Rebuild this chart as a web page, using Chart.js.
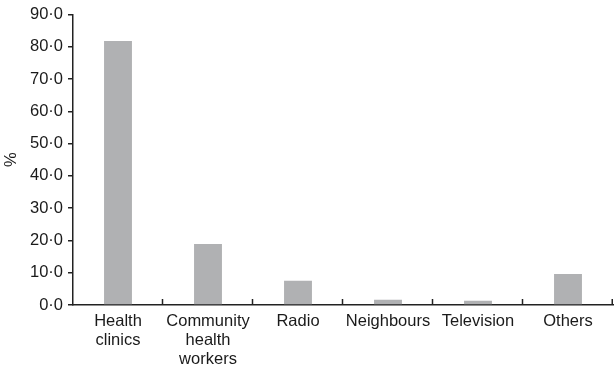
<!DOCTYPE html>
<html>
<head>
<meta charset="utf-8">
<script src="https://cdn.jsdelivr.net/npm/chart.js@4.4.1/dist/chart.umd.min.js"></script>
<style>
  body { margin: 0; background: #fff; }
  canvas { display: block; }
</style>
</head>
<body>
<canvas id="chart" width="614" height="371"></canvas>
<script>
// sources of information, % of respondents
var categories = [["Health", "clinics"], ["Community", "health", "workers"], "Radio", "Neighbours", "Television", "Others"];
var values = [81.8, 18.9, 7.5, 1.6, 1.3, 9.6];
var yTicks = [0, 10, 20, 30, 40, 50, 60, 70, 80, 90];

// little up-pointing ticks between categories, like the printed figure
var innerTicks = {
  id: "innerTicks",
  afterDraw: function(chart) {
    var x = chart.scales.x, ctx = chart.ctx;
    var n = categories.length;
    var step = (x.right - x.left) / n;
    ctx.save();
    ctx.strokeStyle = "#222";
    ctx.lineWidth = 1.5;
    for (var i = 1; i <= n; i++) {
      var px = Math.round(x.left + i * step) - 0.5;
      if (i == n) px = x.right - 0.75;
      ctx.beginPath();
      ctx.moveTo(px, x.top);
      ctx.lineTo(px, x.top - 6);
      ctx.stroke();
    }
    ctx.restore();
  }
};

var fnt = { family: "'Liberation Sans', Arial, sans-serif", size: 16.5, lineHeight: 1.15 };

new Chart(document.getElementById("chart"), {
  type: "bar",
  data: {
    labels: categories,
    datasets: [{
      data: values,
      backgroundColor: "#b0b1b3",
      barPercentage: 0.31,
      categoryPercentage: 1
    }]
  },
  options: {
    responsive: false,
    animation: false,
    plugins: { legend: { display: false }, tooltip: { enabled: false } },
    layout: { padding: { top: 13, right: 1, left: 0, bottom: 0 } },
    scales: {
      x: {
        grid: { display: false, drawTicks: false },
        border: { color: "#222", width: 1.5 },
        ticks: { color: "#1a1a1a", font: fnt, padding: 7, maxRotation: 0, autoSkip: false },
        afterFit: function(s) { s.height = 66; }
      },
      y: {
        min: 0,
        max: 90,
        afterBuildTicks: function(s) { s.ticks = yTicks.map(function(v) { return { value: v }; }); },
        grid: { drawOnChartArea: false, tickLength: 5, color: "#222", lineWidth: 1.5 },
        border: { color: "#222", width: 1.5 },
        ticks: {
          color: "#1a1a1a",
          font: fnt,
          padding: 5,
          callback: function(v) { return v.toFixed(1).replace(".", "\u00B7"); }
        },
        title: { display: true, text: "%", color: "#1a1a1a", font: fnt, padding: { top: 2, bottom: 0 } },
        afterFit: function(s) { s.width = 73; }
      }
    }
  },
  plugins: [innerTicks]
});
</script>
</body>
</html>
